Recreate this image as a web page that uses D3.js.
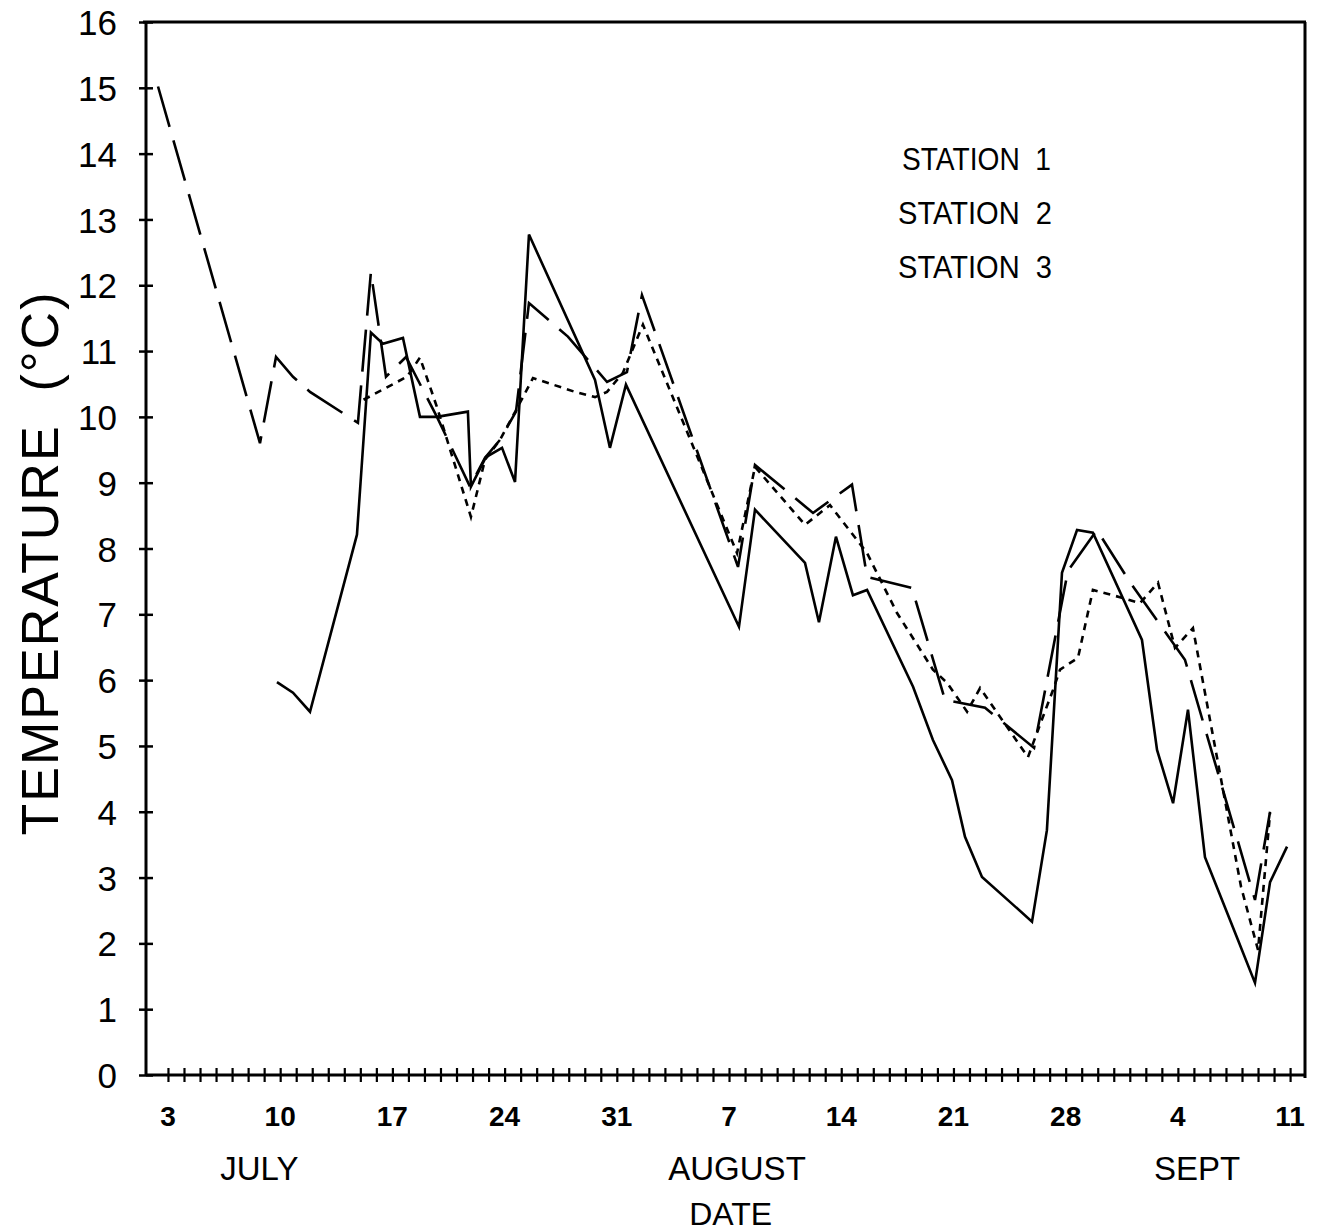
<!DOCTYPE html>
<html>
<head>
<meta charset="utf-8">
<script src="https://cdn.jsdelivr.net/npm/d3@7"></script>
<style>
  body { margin: 0; background: #fff; }
  text { font-family: "Liberation Sans", Arial, sans-serif; fill: #000; }
</style>
</head>
<body>
<svg id="chart" width="1318" height="1232"></svg>
<script>
// Day numbers count from 30 June: 3 = 3 July, 32 = 1 August, 63 = 1 September.
const station1Days  = [9.8, 10.8, 11.86, 14.79, 15.66, 16.41, 17.66, 18.72, 19.78, 21.71, 21.9, 22.84, 23.84, 24.65, 25.52, 29.64, 30.57, 31.57, 38.62, 39.62, 42.74, 43.61, 44.67, 45.73, 46.61, 49.48, 50.72, 51.91, 52.72, 53.78, 56.9, 57.83, 58.77, 59.71, 60.7, 63.76, 64.7, 65.7, 66.63, 67.69, 69.75, 70.81, 71.75, 72.81];
const station1Temps = [5.97, 5.81, 5.52, 8.21, 11.28, 11.11, 11.2, 10.0, 10.0, 10.08, 8.94, 9.39, 9.53, 9.01, 12.77, 10.56, 9.53, 10.49, 6.81, 8.59, 7.78, 6.88, 8.18, 7.29, 7.37, 5.9, 5.09, 4.48, 3.62, 3.01, 2.33, 3.72, 7.63, 8.28, 8.24, 6.61, 4.94, 4.13, 5.55, 3.31, 2.05, 1.4, 2.93, 3.47];

const station2Days  = [2.38, 8.74, 9.74, 10.8, 11.86, 14.85, 15.66, 16.6, 17.85, 19.78, 21.84, 22.78, 23.71, 24.71, 25.52, 27.95, 30.39, 31.63, 32.57, 38.56, 39.62, 43.24, 45.67, 46.61, 49.41, 51.47, 53.97, 57.03, 59.14, 60.95, 63.01, 66.44, 70.81, 71.75];
const station2Temps = [15.02, 9.6, 10.91, 10.61, 10.38, 9.91, 12.2, 10.61, 10.91, 10.0, 8.94, 9.38, 9.65, 10.08, 11.73, 11.22, 10.53, 10.68, 11.85, 7.72, 9.27, 8.54, 8.97, 7.57, 7.4, 5.7, 5.58, 4.97, 7.66, 8.28, 7.49, 6.31, 2.66, 4.0];

const station3Days  = [15.2, 17.91, 18.72, 19.78, 21.9, 22.78, 23.71, 24.71, 25.77, 28.39, 29.64, 30.39, 31.38, 32.63, 38.5, 39.62, 42.74, 44.3, 46.61, 48.48, 50.72, 51.6, 52.85, 53.66, 56.65, 57.21, 58.21, 58.65, 59.77, 60.7, 62.39, 63.64, 64.76, 65.82, 66.94, 69.94, 71.0, 71.75];
const station3Temps = [10.26, 10.61, 10.9, 10.15, 8.48, 9.35, 9.65, 10.1, 10.59, 10.38, 10.3, 10.38, 10.67, 11.4, 7.93, 9.24, 8.36, 8.66, 7.93, 7.02, 6.16, 5.96, 5.52, 5.88, 4.83, 5.2, 5.85, 6.16, 6.34, 7.37, 7.26, 7.17, 7.48, 6.49, 6.79, 2.86, 1.9, 3.98];

const stationNames = ["STATION  1", "STATION  2", "STATION  3"];

const dayTicks       = d3.range(3, 74);
const labelledDays   = [3, 10, 17, 24, 31, 38, 45, 52, 59, 66, 73];
const labelledText   = ["3", "10", "17", "24", "31", "7", "14", "21", "28", "4", "11"];
const monthNames     = ["JULY", "AUGUST", "SEPT"];
const monthCentres   = [8.7, 38.5, 67.2];
const tempTicks      = d3.range(0, 17);

const svg = d3.select("#chart");

const x = d3.scaleLinear().domain([1.63, 73.93]).range([146, 1305]);
const y = d3.scaleLinear().domain([0, 16]).range([1075, 22]);

// Frame: top and right edges of the plotting box
svg.append("line").attr("x1", 143).attr("x2", 1306).attr("y1", y(16)).attr("y2", y(16))
  .attr("stroke", "#000").attr("stroke-width", 3);
svg.append("line").attr("x1", 1305).attr("x2", 1305).attr("y1", y(16)).attr("y2", y(0) + 3)
  .attr("stroke", "#000").attr("stroke-width", 3);

// Bottom axis: one tick per day, drawn as small crosses
const xAxis = svg.append("g")
  .attr("transform", `translate(0,${y(0)})`)
  .call(d3.axisBottom(x).tickValues(dayTicks).tickSize(7).tickFormat(""));
xAxis.select(".domain").attr("stroke-width", 3).attr("d", `M${x.range()[0]},0H${x.range()[1]}`);
xAxis.selectAll(".tick line").attr("y1", -7).attr("y2", 7).attr("stroke-width", 2.2);

svg.append("g").selectAll("text")
  .data(labelledDays)
  .join("text")
  .attr("x", d => x(d))
  .attr("y", 1126)
  .attr("text-anchor", "middle")
  .attr("font-size", 28)
  .attr("font-weight", "bold")
  .text((d, i) => labelledText[i]);

svg.append("g").selectAll("text")
  .data(monthCentres)
  .join("text")
  .attr("x", d => x(d))
  .attr("y", 1180)
  .attr("text-anchor", "middle")
  .attr("font-size", 33)
  .text((d, i) => monthNames[i]);

svg.append("text")
  .attr("x", x(38.1))
  .attr("y", 1225)
  .attr("text-anchor", "middle")
  .attr("font-size", 32)
  .text("DATE");

// Left axis: temperature, ticks cross the axis line
const yAxis = svg.append("g")
  .attr("transform", `translate(${x.range()[0]},0)`)
  .call(d3.axisLeft(y).tickValues(tempTicks).tickSize(7).tickPadding(22));
yAxis.select(".domain").attr("stroke-width", 3).attr("d", `M0,${y(16)}V${y(0)}`);
yAxis.selectAll(".tick line").attr("x1", -7).attr("x2", 7).attr("stroke-width", 2.5);
yAxis.selectAll(".tick text")
  .attr("font-size", 35)
  .attr("font-family", "Liberation Sans, Arial, sans-serif")
  .attr("dy", "0.36em");

svg.append("text")
  .attr("transform", "translate(58,563) rotate(-90)")
  .attr("text-anchor", "middle")
  .attr("font-size", 52)
  .attr("letter-spacing", 2)
  .attr("xml:space", "preserve")
  .text("TEMPERATURE  (°C)");

// Station series
const line = d3.line().x(d => x(d[0])).y(d => y(d[1]));
const series = [
  { days: station1Days, temps: station1Temps, dash: null },
  { days: station2Days, temps: station2Temps, dash: "42,14" },
  { days: station3Days, temps: station3Temps, dash: "7,6" }
];

svg.append("g").selectAll("path")
  .data(series)
  .join("path")
  .attr("d", s => line(s.days.map((d, i) => [d, s.temps[i]])))
  .attr("fill", "none")
  .attr("stroke", "#000")
  .attr("stroke-width", 2.6)
  .attr("stroke-linejoin", "miter")
  .attr("stroke-dasharray", s => s.dash);

// Legend (condensed lettering)
svg.append("g").selectAll("text")
  .data(stationNames)
  .join("text")
  .attr("x", (d, i) => i === 0 ? 902 : 898)
  .attr("y", (d, i) => 170 + i * 54)
  .attr("font-size", 31)
  .attr("xml:space", "preserve")
  .attr("textLength", (d, i) => i === 0 ? 149 : 154)
  .attr("lengthAdjust", "spacingAndGlyphs")
  .text(d => d);
</script>
</body>
</html>
